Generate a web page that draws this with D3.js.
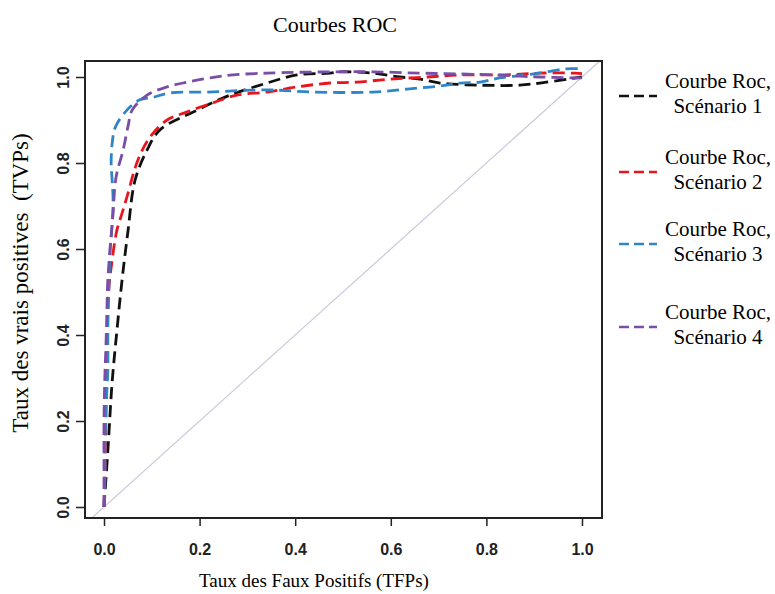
<!DOCTYPE html>
<html>
<head>
<meta charset="utf-8">
<script src="https://cdn.jsdelivr.net/npm/d3@7"></script>
<style>
  html, body { margin: 0; padding: 0; background: #fff; }
  svg { display: block; }
</style>
</head>
<body>
<svg id="chart" width="775" height="594"></svg>
<script>
// ROC curves for four scenarios: false-positive rate (FPR) vs true-positive rate (TPR)
const scenarios = ["Scénario 1", "Scénario 2", "Scénario 3", "Scénario 4"];
const seriesColors = ["#111111", "#e8141e", "#2e86c8", "#7a4ea6"];

const fpr1 = [0, 0.008, 0.017, 0.027, 0.038, 0.05, 0.065, 0.09, 0.117, 0.195, 0.264, 0.341, 0.404, 0.473, 0.494, 0.563, 0.619, 0.661, 0.703, 0.787, 0.870, 0.912, 0.969, 1.0];
const tpr1 = [0, 0.13, 0.29, 0.41, 0.53, 0.64, 0.76, 0.83, 0.877, 0.923, 0.958, 0.986, 1.005, 1.009, 1.012, 1.009, 1.0, 0.995, 0.986, 0.981, 0.981, 0.986, 0.995, 1.0];

const fpr2 = [0, 0.002, 0.004, 0.006, 0.010, 0.017, 0.027, 0.038, 0.048, 0.071, 0.096, 0.132, 0.174, 0.228, 0.278, 0.341, 0.404, 0.473, 0.529, 0.598, 0.676, 0.751, 0.839, 0.912, 0.985, 1.0];
const tpr2 = [0, 0.086, 0.2, 0.365, 0.505, 0.574, 0.644, 0.684, 0.721, 0.807, 0.860, 0.9, 0.919, 0.940, 0.958, 0.965, 0.977, 0.986, 0.988, 0.995, 1.0, 1.005, 1.005, 1.009, 1.009, 1.008];

const fpr3 = [0, 0.002, 0.002, 0.004, 0.008, 0.008, 0.010, 0.013, 0.017, 0.019, 0.017, 0.015, 0.017, 0.024, 0.048, 0.075, 0.103, 0.138, 0.215, 0.341, 0.437, 0.563, 0.634, 0.703, 0.745, 0.787, 0.828, 0.885, 0.927, 0.964, 1.0];
const tpr3 = [0, 0.063, 0.133, 0.226, 0.319, 0.412, 0.505, 0.598, 0.656, 0.714, 0.760, 0.800, 0.845, 0.884, 0.923, 0.947, 0.953, 0.963, 0.965, 0.970, 0.965, 0.965, 0.972, 0.979, 0.986, 0.988, 0.998, 1.005, 1.012, 1.019, 1.019];

const fpr4 = [0, 0, 0, 0.002, 0.004, 0.006, 0.008, 0.013, 0.019, 0.023, 0.027, 0.040, 0.050, 0.059, 0.090, 0.132, 0.174, 0.222, 0.270, 0.341, 0.473, 0.563, 0.661, 0.745, 0.814, 0.870, 0.912, 0.975, 1.0];
const tpr4 = [0, 0.086, 0.2, 0.312, 0.372, 0.451, 0.528, 0.605, 0.684, 0.749, 0.777, 0.830, 0.884, 0.923, 0.958, 0.977, 0.988, 0.998, 1.005, 1.009, 1.012, 1.012, 1.009, 1.007, 1.005, 1.002, 1.0, 0.998, 0.998];

const tickValues = [0, 0.2, 0.4, 0.6, 0.8, 1.0];
const legendLine1 = "Courbe Roc,";

const series = [
  { name: scenarios[0], x: fpr1, y: tpr1, color: seriesColors[0] },
  { name: scenarios[1], x: fpr2, y: tpr2, color: seriesColors[1] },
  { name: scenarios[2], x: fpr3, y: tpr3, color: seriesColors[2] },
  { name: scenarios[3], x: fpr4, y: tpr4, color: seriesColors[3] }
];

const svg = d3.select("#chart");
const serif = "'Liberation Serif', 'Times New Roman', serif";
const sans = "'Liberation Sans', Arial, Helvetica, sans-serif";

// plotting region (4% padding around [0,1] like R's default axis style)
const box = { left: 85, right: 602, top: 61, bottom: 518 };
const x = d3.scaleLinear().domain([0, 1]).range([104, 582]);
const y = d3.scaleLinear().domain([0, 1]).range([507, 77]);

svg.append("defs").append("clipPath").attr("id", "plotClip")
  .append("rect")
  .attr("x", box.left).attr("y", box.top)
  .attr("width", box.right - box.left).attr("height", box.bottom - box.top);

// diagonal reference line (random classifier)
const ext = [x.invert(box.left), x.invert(box.right)];
svg.append("line")
  .attr("clip-path", "url(#plotClip)")
  .attr("x1", x(ext[0])).attr("y1", y(ext[0]))
  .attr("x2", x(ext[1])).attr("y2", y(ext[1]))
  .attr("stroke", "#cdc6dc").attr("stroke-width", 1.2);

// ROC curves
const line = d3.line()
  .x(d => x(d[0]))
  .y(d => y(d[1]))
  .curve(d3.curveCatmullRom.alpha(0.5));

const plotG = svg.append("g").attr("clip-path", "url(#plotClip)");
series.forEach(s => {
  const pts = s.x.map((v, i) => [v, s.y[i]]);
  plotG.append("path")
    .datum(pts)
    .attr("d", line)
    .attr("fill", "none")
    .attr("stroke", s.color)
    .attr("stroke-width", 2.8)
    .attr("stroke-dasharray", "12,6");
});

// plot frame
svg.append("rect")
  .attr("x", box.left).attr("y", box.top)
  .attr("width", box.right - box.left).attr("height", box.bottom - box.top)
  .attr("fill", "none").attr("stroke", "#222").attr("stroke-width", 2);

// x axis
const xAxis = d3.axisBottom(x).tickValues(tickValues).tickFormat(d3.format(".1f")).tickSize(8).tickPadding(0);
const gx = svg.append("g").attr("transform", `translate(0,${box.bottom})`).call(xAxis);
gx.select(".domain").remove();
gx.selectAll(".tick line").attr("stroke", "#222").attr("stroke-width", 1.5);
gx.selectAll(".tick text")
  .attr("y", 37).attr("dy", null)
  .style("font-family", sans).style("font-size", "16px").style("font-weight", "bold").attr("fill", "#222");

// y axis (labels rotated, parallel to the axis)
const yAxis = d3.axisLeft(y).tickValues(tickValues).tickFormat(d3.format(".1f")).tickSize(9).tickPadding(0);
const gy = svg.append("g").attr("transform", `translate(${box.left},0)`).call(yAxis);
gy.select(".domain").remove();
gy.selectAll(".tick line").attr("stroke", "#222").attr("stroke-width", 1.5);
gy.selectAll(".tick text")
  .attr("x", null).attr("dy", null)
  .attr("text-anchor", "middle")
  .attr("transform", "translate(-22,0) rotate(-90)")
  .attr("y", 0)
  .attr("dominant-baseline", "central")
  .style("font-family", sans).style("font-size", "16px").style("font-weight", "bold").attr("fill", "#222");

// title and axis titles
svg.append("text")
  .attr("x", 335).attr("y", 32)
  .attr("text-anchor", "middle")
  .style("font-family", serif).style("font-size", "22px")
  .text("Courbes ROC");

svg.append("text")
  .attr("x", 314).attr("y", 587)
  .attr("text-anchor", "middle")
  .style("font-family", serif).style("font-size", "19px")
  .text("Taux des Faux Positifs (TFPs)");

svg.append("text")
  .attr("transform", "translate(28,283) rotate(-90)")
  .attr("text-anchor", "middle")
  .style("font-family", serif).style("font-size", "23px")
  .style("white-space", "pre")
  .text("Taux des vrais positives  (TVPs)");

// legend
const legendBase = [88, 164, 236, 319];
const legend = svg.append("g");
series.forEach((s, i) => {
  const b = legendBase[i];
  legend.append("line")
    .attr("x1", 619).attr("x2", 657)
    .attr("y1", b + 8).attr("y2", b + 8)
    .attr("stroke", s.color).attr("stroke-width", 2.6)
    .attr("stroke-dasharray", "10,5");
  legend.append("text")
    .attr("x", 718).attr("y", b)
    .attr("text-anchor", "middle")
    .style("font-family", serif).style("font-size", "21px")
    .text(legendLine1);
  legend.append("text")
    .attr("x", 718).attr("y", b + 25)
    .attr("text-anchor", "middle")
    .style("font-family", serif).style("font-size", "21px")
    .text(s.name);
});
</script>
</body>
</html>
